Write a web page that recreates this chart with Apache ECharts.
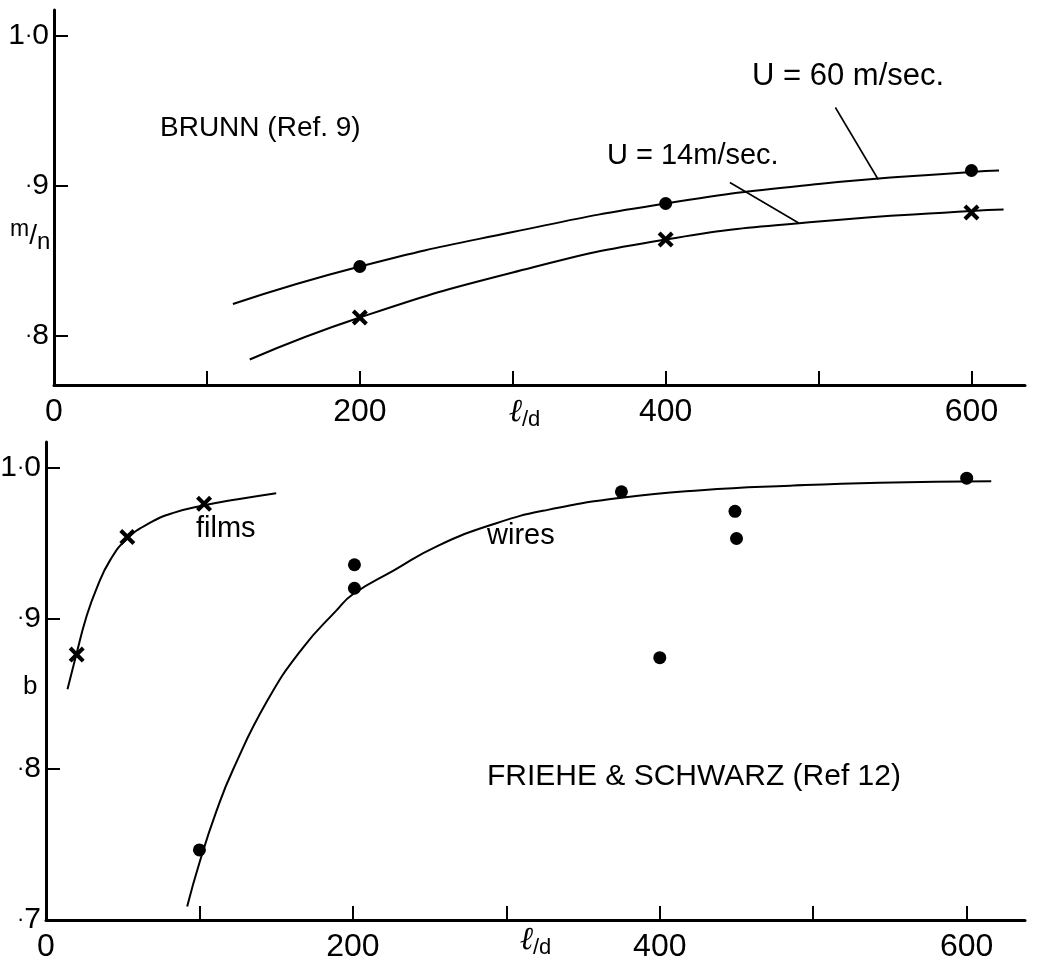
<!DOCTYPE html>
<html>
<head>
<meta charset="utf-8">
<script src="https://cdn.jsdelivr.net/npm/echarts@6.0.0/dist/echarts.min.js"></script>
<style>
  html, body { margin: 0; padding: 0; background: #fff; }
  #chart { width: 1038px; height: 969px; }
</style>
</head>
<body>
<div id="chart"></div>
<script>
// ---- data ----
// top panel: Brunn (Ref. 9), m/n against l/d
const brunnX = [200, 400, 600];
const brunn60 = [0.846, 0.888, 0.910];   // U = 60 m/sec (dots)
const brunn14 = [0.812, 0.864, 0.882];   // U = 14 m/sec (crosses)
const fit60X = [117, 200, 300, 400, 500, 600, 618];
const fit60Y = [0.821, 0.846, 0.869, 0.888, 0.901, 0.909, 0.910];
const fit14X = [128, 200, 300, 400, 500, 600, 621];
const fit14Y = [0.784, 0.812, 0.842, 0.864, 0.876, 0.883, 0.884];
// leader lines from labels to curves
const lead60X = [511, 539];
const lead60Y = [0.952, 0.904];
const lead14X = [442, 487];
const lead14Y = [0.902, 0.875];

// bottom panel: Friehe & Schwarz (Ref 12), b against l/d
const filmsX = [20, 53, 103];
const filmsY = [0.876, 0.954, 0.976];
const wiresX = [100, 201, 201, 375, 400, 449, 450, 600];
const wiresY = [0.7465, 0.9356, 0.920, 0.984, 0.874, 0.971, 0.953, 0.993];
const filmsFitX = [14, 20, 26, 33, 42, 53, 67, 83, 103, 125, 150];
const filmsFitY = [0.853, 0.877, 0.900, 0.920, 0.939, 0.953, 0.963, 0.970, 0.975, 0.979, 0.983];
const wiresFitX = [92, 100, 111, 122, 144, 167, 189, 200, 227, 255, 293, 327, 375, 427, 485, 543, 616];
const wiresFitY = [0.709, 0.738, 0.772, 0.800, 0.845, 0.880, 0.905, 0.916, 0.932, 0.948, 0.963, 0.972, 0.980, 0.985, 0.988, 0.990, 0.991];

// axis ticks
const xTicks = [100, 200, 300, 400, 500, 600];
const xLabels = [0, 200, 400, 600];
const yTicks = [0.8, 0.9, 1.0];
const yLabelsTop = [0.8, 0.9, 1.0];
const yLabelsBottom = [0.7, 0.8, 0.9, 1.0];
const yLabelText = { '0.7': '{p|·}7', '0.8': '{p|·}8', '0.9': '{p|·}9', '1': '1{p|·}0' };

const FONT = '"Liberation Sans", Arial, sans-serif';
const crossPath = 'path://M0,1.8L1.8,0L5,3.2L8.2,0L10,1.8L6.8,5L10,8.2L8.2,10L5,6.8L1.8,10L0,8.2L3.2,5Z';

function pairs(xs, ys) {
  return xs.map((x, i) => [x, ys[i]]);
}

function xAxisOf(idx, maxV, gap, shift) {
  return {
    type: 'value', gridIndex: idx, min: 0, max: maxV,
    axisLine: { lineStyle: { color: '#000', width: 3 } },
    axisTick: { inside: true, length: 14, lineStyle: { color: '#000', width: 2 }, customValues: xTicks },
    axisLabel: { customValues: xLabels, color: '#000', fontSize: 32, fontFamily: FONT, margin: 11 },
    splitLine: { show: false },
    name: '{l|ℓ}{d|/d}',
    nameLocation: 'middle',
    nameGap: gap,
    nameMoveOverlap: false,
    nameTextStyle: {
      padding: [0, shift, 0, 0],
      rich: {
        l: { fontSize: 32, fontFamily: 'DejaVu Serif', fontStyle: 'italic', color: '#000', lineHeight: 34, verticalAlign: 'top' },
        d: { fontSize: 22, fontFamily: FONT, color: '#000', lineHeight: 22, verticalAlign: 'bottom' }
      }
    }
  };
}

function yAxisOf(idx, minV, maxV, labels) {
  return {
    type: 'value', gridIndex: idx, min: minV, max: maxV,
    axisLine: { lineStyle: { color: '#000', width: 3 } },
    axisTick: { inside: true, length: 14, lineStyle: { color: '#000', width: 2 }, customValues: yTicks },
    axisLabel: {
      customValues: labels, color: '#000', fontSize: 30, fontFamily: FONT, margin: 5,
      formatter: v => yLabelText[String(Math.round(v * 10) / 10)] || '',
      rich: { p: { fontSize: 22, fontFamily: FONT, color: '#000' } }
    },
    splitLine: { show: false }
  };
}

function curve(name, xs, ys, idx) {
  return {
    name: name, type: 'line', xAxisIndex: idx, yAxisIndex: idx,
    data: pairs(xs, ys), smooth: 0.5,
    symbol: 'none', lineStyle: { color: '#000', width: 2 }, silent: true
  };
}

function leader(name, xs, ys) {
  return {
    name: name, type: 'line', xAxisIndex: 0, yAxisIndex: 0,
    data: pairs(xs, ys), symbol: 'none',
    lineStyle: { color: '#000', width: 1.6 }, silent: true
  };
}

function points(name, xs, ys, idx, symbol, size) {
  return {
    name: name, type: 'scatter', xAxisIndex: idx, yAxisIndex: idx,
    data: pairs(xs, ys), symbol: symbol, symbolSize: size,
    itemStyle: { color: '#000', opacity: 1 }, z: 5
  };
}

function txt(text, left, top, size) {
  return {
    type: 'text', left: left, top: top,
    style: { text: text, fill: '#000', font: size + 'px ' + FONT }
  };
}

let option = {
  backgroundColor: '#fff',
  animation: false,
  grid: [
    { left: 54, top: 10, width: 971, height: 375, outerBoundsMode: 'none' },
    { left: 46, top: 442, width: 979, height: 478, outerBoundsMode: 'none' }
  ],
  xAxis: [xAxisOf(0, 635, 12, 30), xAxisOf(1, 638, 5, 0)],
  yAxis: [yAxisOf(0, 0.767, 1.017, yLabelsTop), yAxisOf(1, 0.7, 1.017, yLabelsBottom)],
  series: [
    curve('fit 60', fit60X, fit60Y, 0),
    curve('fit 14', fit14X, fit14Y, 0),
    leader('lead 60', lead60X, lead60Y),
    leader('lead 14', lead14X, lead14Y),
    points('U = 60 m/sec.', brunnX, brunn60, 0, 'circle', 13),
    points('U = 14 m/sec.', brunnX, brunn14, 0, crossPath, 16),
    curve('films fit', filmsFitX, filmsFitY, 1),
    curve('wires fit', wiresFitX, wiresFitY, 1),
    points('films', filmsX, filmsY, 1, crossPath, 16),
    points('wires', wiresX, wiresY, 1, 'circle', 13)
  ],
  graphic: [
    txt('BRUNN (Ref. 9)', 160, 114, 28),
    txt('U = 60 m/sec.', 752, 61, 31),
    txt('U = 14m/sec.', 607, 141, 29),
    txt('films', 196, 514, 29),
    txt('wires', 487, 521, 29),
    txt('FRIEHE & SCHWARZ (Ref 12)', 487, 762, 30),
    txt('b', 23, 674, 26),
    {
      type: 'text', left: 10, top: 218,
      style: {
        text: '{m|m}{s|/}{n|n}',
        rich: {
          m: { fontSize: 23, fontFamily: FONT, fill: '#000', lineHeight: 22, verticalAlign: 'top' },
          s: { fontSize: 28, fontFamily: FONT, fill: '#000', lineHeight: 36 },
          n: { fontSize: 24, fontFamily: FONT, fill: '#000', lineHeight: 22, verticalAlign: 'bottom' }
        }
      }
    }
  ]
};

var chart = echarts.init(document.getElementById('chart'));
chart.setOption(option);
</script>
</body>
</html>
